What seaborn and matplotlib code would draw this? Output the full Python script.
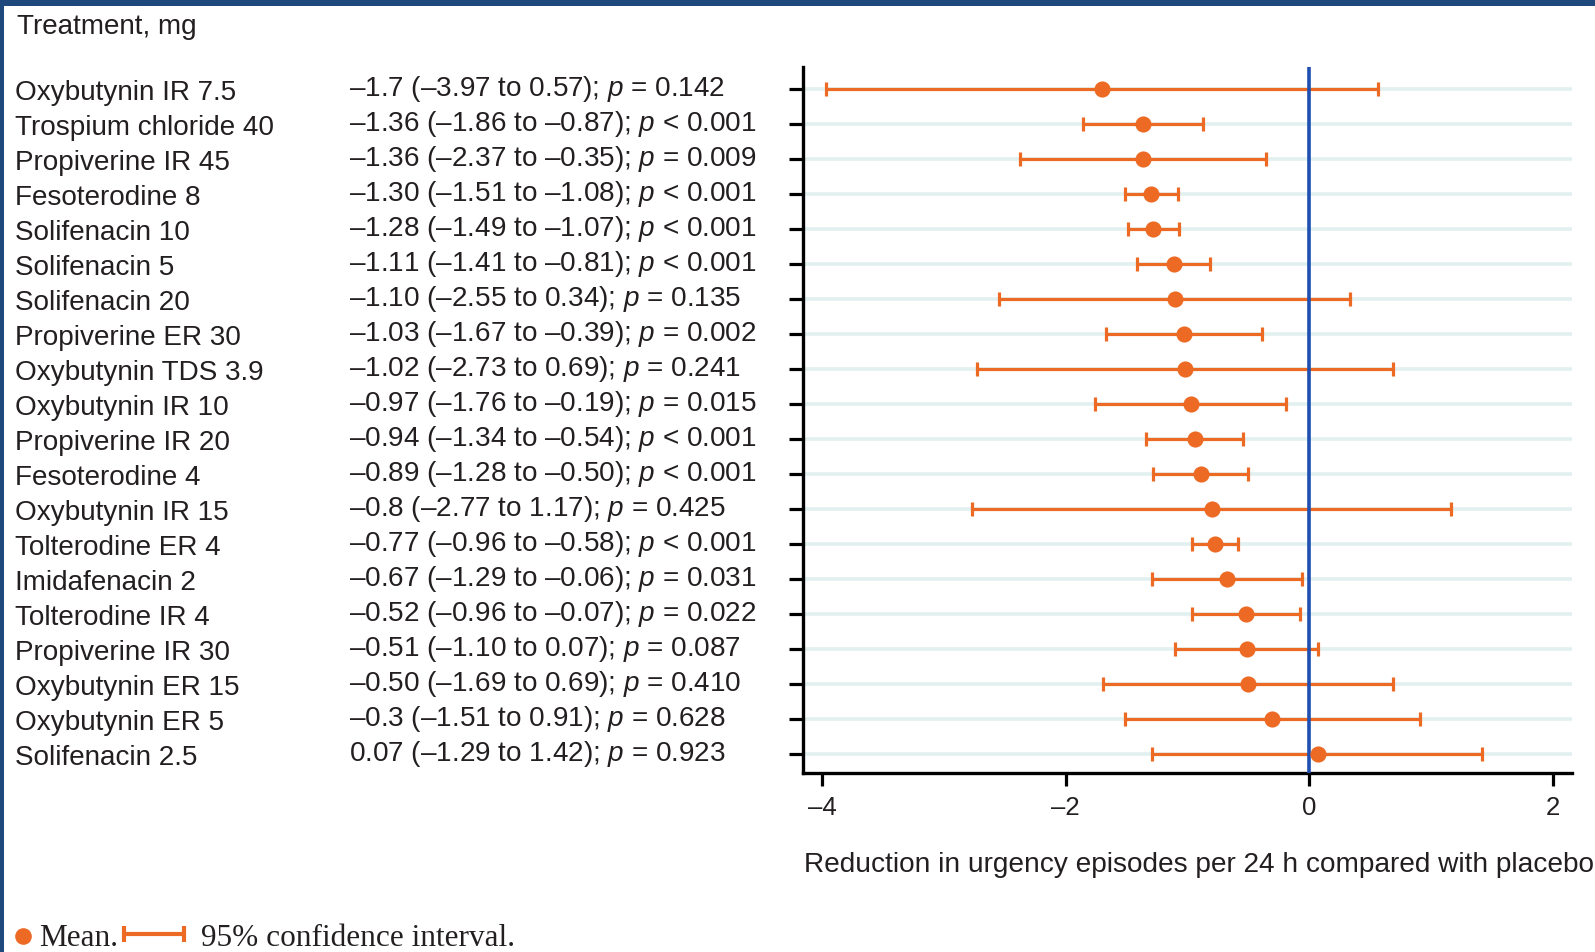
import numpy as np
import pandas as pd
import matplotlib
matplotlib.use("Agg")
import matplotlib.pyplot as plt
import matplotlib.transforms as mtransforms
from matplotlib.patches import Rectangle
from matplotlib.lines import Line2D
import seaborn as sns

# ---- data -------------------------------------------------------------
treatments = [
    "Oxybutynin IR 7.5", "Trospium chloride 40", "Propiverine IR 45",
    "Fesoterodine 8", "Solifenacin 10", "Solifenacin 5", "Solifenacin 20",
    "Propiverine ER 30", "Oxybutynin TDS 3.9", "Oxybutynin IR 10",
    "Propiverine IR 20", "Fesoterodine 4", "Oxybutynin IR 15",
    "Tolterodine ER 4", "Imidafenacin 2", "Tolterodine IR 4",
    "Propiverine IR 30", "Oxybutynin ER 15", "Oxybutynin ER 5",
    "Solifenacin 2.5",
]
mean_str = ["–1.7", "–1.36", "–1.36", "–1.30", "–1.28", "–1.11", "–1.10",
            "–1.03", "–1.02", "–0.97", "–0.94", "–0.89", "–0.8", "–0.77",
            "–0.67", "–0.52", "–0.51", "–0.50", "–0.3", "0.07"]
ci_low_str = ["–3.97", "–1.86", "–2.37", "–1.51", "–1.49", "–1.41", "–2.55",
              "–1.67", "–2.73", "–1.76", "–1.34", "–1.28", "–2.77", "–0.96",
              "–1.29", "–0.96", "–1.10", "–1.69", "–1.51", "–1.29"]
ci_high_str = ["0.57", "–0.87", "–0.35", "–1.08", "–1.07", "–0.81", "0.34",
               "–0.39", "0.69", "–0.19", "–0.54", "–0.50", "1.17", "–0.58",
               "–0.06", "–0.07", "0.07", "0.69", "0.91", "1.42"]
p_str = ["= 0.142", "< 0.001", "= 0.009", "< 0.001", "< 0.001", "< 0.001",
         "= 0.135", "= 0.002", "= 0.241", "= 0.015", "< 0.001", "< 0.001",
         "= 0.425", "< 0.001", "= 0.031", "= 0.022", "= 0.087", "= 0.410",
         "= 0.628", "= 0.923"]
x_ticks = [-4, -2, 0, 2]
x_tick_labels = ["–4", "–2", "0", "2"]
x_label = "Reduction in urgency episodes per 24 h compared with placebo"
header = "Treatment, mg"


def to_num(s):
    return float(s.replace("–", "-"))


df = pd.DataFrame({
    "treatment": treatments,
    "row": np.arange(len(treatments)),
    "mean": [to_num(s) for s in mean_str],
    "low": [to_num(s) for s in ci_low_str],
    "high": [to_num(s) for s in ci_high_str],
})

# ---- style ------------------------------------------------------------
sns.set_theme(style="white")
plt.rcParams["font.family"] = ["Liberation Sans", "DejaVu Sans"]
plt.rcParams["mathtext.fontset"] = "custom"
plt.rcParams["mathtext.rm"] = "Liberation Sans"
plt.rcParams["mathtext.it"] = "Liberation Sans:italic"

ORANGE = "#ec6a24"
BLUE = "#1f4fb0"
INK = "#231f20"
GRID = "#e2f0f0"
FRAME = "#1f497d"

W, H = 1595, 952
fig = plt.figure(figsize=(W / 100, H / 100), dpi=100)
fig.patch.set_facecolor("white")


def fx(px):
    return px / W


def fy(py):
    return 1 - py / H


ax = fig.add_axes([fx(803), fy(773), fx(1572) - fx(803), fy(67) - fy(773)])

# confidence intervals
ax.errorbar(df["mean"], df["row"],
            xerr=[df["mean"] - df["low"], df["high"] - df["mean"]],
            fmt="none", ecolor=ORANGE, elinewidth=2.3, capsize=4.8,
            capthick=2.3, zorder=3)
# no-effect reference line
ax.axvline(0, color=BLUE, lw=2.6, zorder=4)
# means
sns.scatterplot(data=df, x="mean", y="row", ax=ax, color=ORANGE, s=135,
                linewidth=0, zorder=5, legend=False)

ax.set_xlim(-4.156, 2.16)
ax.set_ylim(19.54, -0.64)
ax.set_yticks(df["row"])
ax.set_yticklabels([])
ax.set_xticks(x_ticks)
ax.set_xticklabels(x_tick_labels, fontsize=18.5, color=INK)
ax.set_xlabel("")
ax.set_ylabel("")
ax.grid(axis="y", color=GRID, lw=2.6)
ax.grid(axis="x", visible=False)
ax.set_axisbelow(True)
for side in ("top", "right"):
    ax.spines[side].set_visible(False)
for side in ("left", "bottom"):
    ax.spines[side].set_color("black")
    ax.spines[side].set_linewidth(2.4)
ax.tick_params(axis="y", length=10, width=2.3, color="black", left=True)
ax.tick_params(axis="x", length=9.5, width=2.3, color="black", bottom=True,
               pad=7)

# treatment names and estimates beside each row
row_tr = mtransforms.blended_transform_factory(fig.transFigure, ax.transData)
for r, name in enumerate(treatments):
    ax.text(fx(15), r + 0.1, name, transform=row_tr, fontsize=20.1,
            color=INK, va="center", ha="left")
    stat = (f"{mean_str[r]} ({ci_low_str[r]} to {ci_high_str[r]}); "
            f"$\\mathit{{p}}$ {p_str[r]}")
    ax.text(fx(349), r, stat, transform=row_tr, fontsize=20.1, color=INK,
            va="center", ha="left")

fig.text(fx(17), fy(27), header, fontsize=20.1, color=INK, va="center",
         ha="left")
fig.text(fx(804), fy(865), x_label, fontsize=20.2, color=INK, va="center",
         ha="left")

# key for the symbols
fig.add_artist(Line2D([fx(23)], [fy(936)], marker="o", markersize=12,
                      color=ORANGE, markeredgewidth=0))
fig.text(fx(39), fy(946), "Mean.", family=["Liberation Serif"],
         fontsize=22.5, color=INK, va="baseline", ha="left")
fig.add_artist(Line2D([fx(124), fx(184)], [fy(934), fy(934)], color=ORANGE,
                      lw=3.0, solid_capstyle="butt"))
for xc in (124, 184):
    fig.add_artist(Line2D([fx(xc), fx(xc)], [fy(926), fy(942)],
                          color=ORANGE, lw=3.0, solid_capstyle="butt"))
fig.text(fx(201), fy(946), "95% confidence interval.",
         family=["Liberation Serif"], fontsize=22.5, color=INK,
         va="baseline", ha="left")

# page frame
fig.add_artist(Rectangle((0, fy(6)), 1, fy(0) - fy(6), transform=fig.transFigure,
                         color=FRAME, lw=0))
fig.add_artist(Rectangle((0, 0), fx(4), 1, transform=fig.transFigure,
                         color=FRAME, lw=0))

fig.savefig("out.png", dpi=100, facecolor="white")
